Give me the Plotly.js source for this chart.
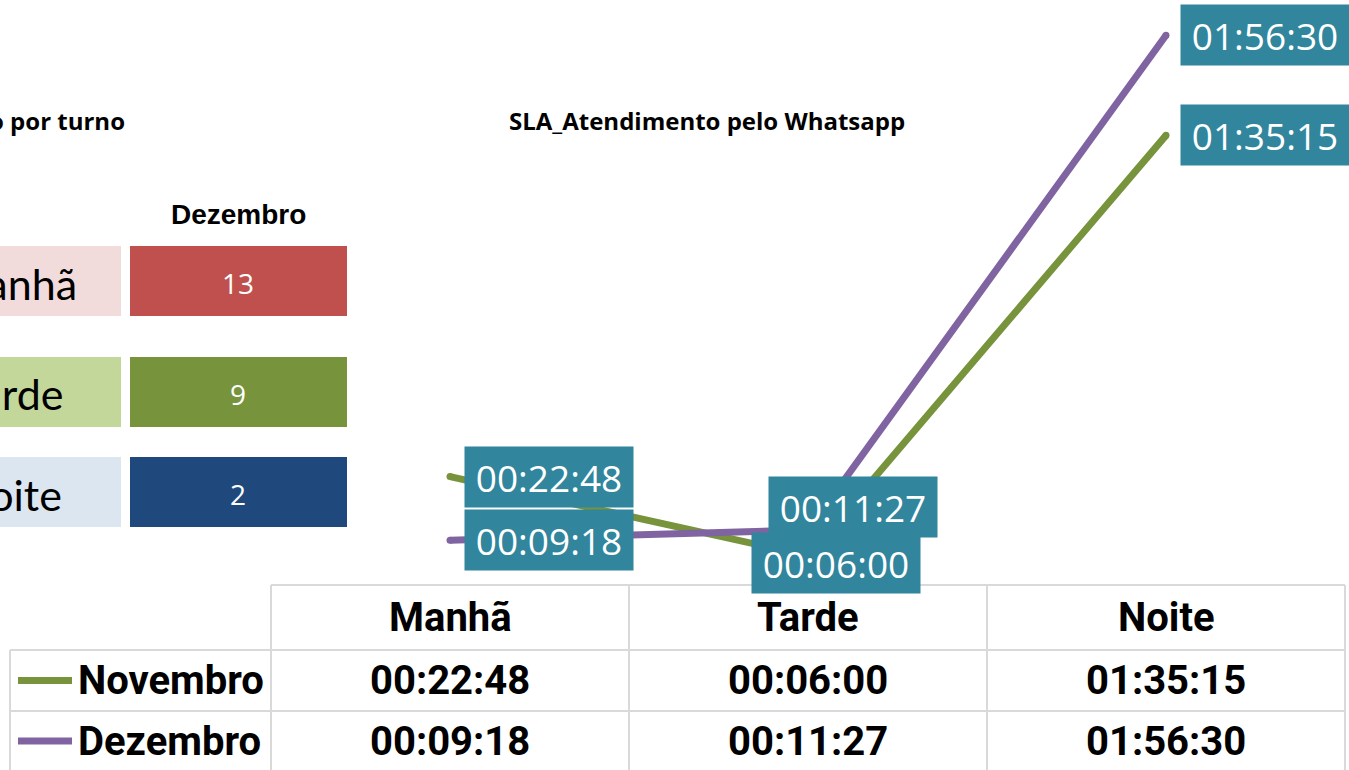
<!DOCTYPE html>
<html><head><meta charset="utf-8">
<script src="https://cdn.plot.ly/plotly-3.0.1.min.js"></script>
<style>html,body{margin:0;padding:0;background:#fff;overflow:hidden}#chart{width:1349px;height:770px}</style>
</head><body><div id="chart"></div>
<script>
// ---- data ----
const categories = ["Manhã", "Tarde", "Noite"];
const seriesNames = ["Novembro", "Dezembro"];
const novembro = ["00:22:48", "00:06:00", "01:35:15"];
const dezembro = ["00:09:18", "00:11:27", "01:56:30"];
const chartTitle = "SLA_Atendimento pelo Whatsapp";
const leftTitle = "o por turno";
const leftHeader = "Dezembro";
const turnoLabels = ["Manhã", "Tarde", "Noite"];
const turnoDezembro = [13, 9, 2];

// ---- styles ----
const W = 1349, H = 770;
const colors = { Novembro: "#77933C", Dezembro: "#8064A2" };
const labelBg = "#31859C";
const gridCol = "#D9D9D9";
// label offsets in px (dx from point, dy up)
const labelOffsets = {
  Novembro: [[14, 0], [-57, -7], [14, 0]],
  Dezembro: [[14, 0], [-40, 23], [14, 0]]
};
const turnoLight = ["#F2DCDB", "#C4D79B", "#DCE6F1"];
const turnoDark = ["#C0504D", "#77933C", "#1F497D"];
const turnoTextRight = [79, 65, 64];

function toSec(s) { const p = s.split(":").map(Number); return p[0] * 3600 + p[1] * 60 + p[2]; }
const px = x => x / W, py = y => 1 - y / H;

const seriesData = { Novembro: novembro, Dezembro: dezembro };
const idx = categories.map((c, i) => i);

const traces = seriesNames.map(name => ({
  type: "scatter", mode: "lines+markers", name: name,
  x: idx, y: seriesData[name].map(toSec),
  line: { color: colors[name], width: 7 },
  marker: { color: colors[name], size: 7 },
  hoverinfo: "skip", cliponaxis: false
}));

const annotations = [];
const shapes = [];

// data labels
seriesNames.forEach(name => {
  seriesData[name].forEach((v, i) => {
    const off = labelOffsets[name][i];
    annotations.push({
      x: i, y: toSec(v), xref: "x", yref: "y", text: v, showarrow: false,
      xanchor: "left", yanchor: "middle", xshift: off[0], yshift: off[1],
      bgcolor: labelBg, width: 168, height: 60, borderpad: 0, align: "center", valign: "middle",
      font: { family: "Open Sans", size: 37, color: "#FFFFFF" }
    });
  });
});

// titles
annotations.push({ xref: "paper", yref: "paper", x: px(707), y: py(120), text: "<b>" + chartTitle + "</b>",
  showarrow: false, xanchor: "center", yanchor: "middle", font: { family: "Open Sans", size: 24, color: "#000" } });
annotations.push({ xref: "paper", yref: "paper", x: px(127), y: py(120), text: "<b>" + leftTitle + "</b>",
  showarrow: false, xanchor: "right", yanchor: "middle", font: { family: "Open Sans", size: 24, color: "#000" } });
annotations.push({ xref: "paper", yref: "paper", x: px(238), y: py(214), text: "<b>" + leftHeader + "</b>",
  showarrow: false, xanchor: "center", yanchor: "middle", font: { family: "Liberation Sans", size: 28, color: "#000" } });

// left cells (turno counts)
const rowTops = [246, 357, 457];
turnoLabels.forEach((t, i) => {
  const y0 = rowTops[i], y1 = y0 + 70;
  shapes.push({ type: "rect", xref: "paper", yref: "paper", x0: px(-120), x1: px(121), y0: py(y1), y1: py(y0),
    fillcolor: turnoLight[i], line: { width: 0 }, layer: "below" });
  shapes.push({ type: "rect", xref: "paper", yref: "paper", x0: px(130), x1: px(347), y0: py(y1), y1: py(y0),
    fillcolor: turnoDark[i], line: { width: 0 }, layer: "below" });
  annotations.push({ xref: "paper", yref: "paper", x: px(turnoTextRight[i]), y: py(y0 + 37), text: t, showarrow: false,
    xanchor: "right", yanchor: "middle",
    font: { family: "Lato", size: 43, color: "#000" } });
  annotations.push({ xref: "paper", yref: "paper", x: px(238), y: py(y0 + 37), text: String(turnoDezembro[i]), showarrow: false,
    xanchor: "center", yanchor: "middle", font: { family: "Open Sans", size: 28, color: "#FFF" } });
});

// data table
const colX = [271, 629, 987, 1345];
const rowY = [585, 650, 711, 771];
const tFont = { family: "Roboto, sans-serif", size: 40, color: "#000" };
shapes.push({ type: "line", xref: "paper", yref: "paper", x0: px(271), x1: px(1345), y0: py(585), y1: py(585), line: { color: gridCol, width: 2 } });
[650, 711].forEach(y => shapes.push({ type: "line", xref: "paper", yref: "paper", x0: px(10), x1: px(1345), y0: py(y), y1: py(y), line: { color: gridCol, width: 2 } }));
colX.forEach(x => shapes.push({ type: "line", xref: "paper", yref: "paper", x0: px(x), x1: px(x), y0: py(585), y1: py(771), line: { color: gridCol, width: 2 } }));
shapes.push({ type: "line", xref: "paper", yref: "paper", x0: px(10), x1: px(10), y0: py(650), y1: py(771), line: { color: gridCol, width: 2 } });
categories.forEach((c, i) => {
  const cx = (colX[i] + colX[i + 1]) / 2;
  annotations.push({ xref: "paper", yref: "paper", x: px(cx), y: py(617), text: "<b>" + c + "</b>", showarrow: false,
    xanchor: "center", yanchor: "middle", font: tFont });
  seriesNames.forEach((name, r) => {
    annotations.push({ xref: "paper", yref: "paper", x: px(cx), y: py((rowY[r + 1] + rowY[r + 2]) / 2), text: "<b>" + seriesData[name][i] + "</b>",
      showarrow: false, xanchor: "center", yanchor: "middle", font: tFont });
  });
});
seriesNames.forEach((name, r) => {
  const cy = (rowY[r + 1] + rowY[r + 2]) / 2;
  shapes.push({ type: "line", xref: "paper", yref: "paper", x0: px(18), x1: px(72), y0: py(cy), y1: py(cy), line: { color: colors[name], width: 7 } });
  annotations.push({ xref: "paper", yref: "paper", x: px(76), y: py(cy), text: "<b>" + name + "</b>", showarrow: false,
    xanchor: "left", yanchor: "middle", font: tFont });
});

const layout = {
  width: W, height: H, margin: { l: 0, r: 0, t: 0, b: 0 },
  paper_bgcolor: "#FFFFFF", plot_bgcolor: "rgba(0,0,0,0)", showlegend: false,
  xaxis: { type: "linear", range: [-0.5, 2.5], domain: [px(271), px(1345)], visible: false, fixedrange: true },
  yaxis: { range: [0, 7200], domain: [1 - 584 / H, 1 - 18.8 / H], visible: false, fixedrange: true },
  annotations: annotations, shapes: shapes
};
Plotly.newPlot("chart", traces, layout, { staticPlot: true, displayModeBar: false });
</script></body></html>
